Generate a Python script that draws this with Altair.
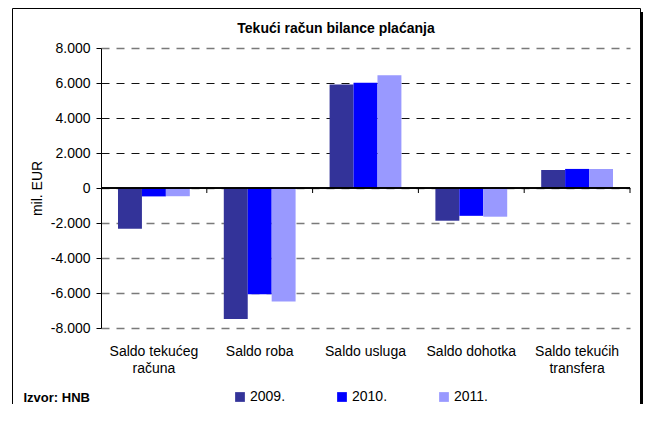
import altair as alt
import pandas as pd

categories = ["Saldo tekućeg računa", "Saldo roba", "Saldo usluga", "Saldo dohotka", "Saldo tekućih transfera"]
years = ["2009.", "2010.", "2011."]
v2009 = [-2330, -7490, 5920, -1870, 1030]
v2010 = [-480, -6070, 6020, -1590, 1090]
v2011 = [-470, -6480, 6440, -1640, 1090]
colors = ["#333399", "#0000FF", "#9999FF"]
y_ticks = [-8000, -6000, -4000, -2000, 0, 2000, 4000, 6000, 8000]
title_text = "Tekući račun bilance plaćanja"
y_title = "mil. EUR"
source_text = "Izvor: HNB"

rows = []
for i, c in enumerate(categories):
    for yr, vals in zip(years, [v2009, v2010, v2011]):
        rows.append({"cat": c, "year": yr, "value": vals[i]})
df = pd.DataFrame(rows)

FONT = "Liberation Sans"
x_scale = alt.Scale(domain=categories, paddingInner=0, paddingOuter=0)
y_scale = alt.Scale(domain=[-8000, 8000], nice=False, zero=False)

label_expr_x = ("length(split(datum.label, ' ')) > 2 ? "
                "[join(slice(split(datum.label, ' '), 0, 2), ' '), join(slice(split(datum.label, ' '), 2), ' ')] "
                ": datum.label")
label_expr_y = "replace(replace(format(datum.value, ','), ',', '.'), '\u2212', '-')"

x_axis = alt.Axis(title=source_text, titleFontWeight="bold", titleFontSize=13,
                  titleX=-78, titleY=69, titleAlign="left", titleBaseline="middle",
                  domain=False, ticks=False, labelAngle=0, labelPadding=16,
                  labelFontSize=14, labelBaseline="top", labelLineHeight=17,
                  labelExpr=label_expr_x, labelColor="black", labelLimit=0)
y_axis = alt.Axis(values=y_ticks, labelExpr=label_expr_y, title=y_title,
                  labelOverlap=False,
                  titleFontWeight="normal", titleFontSize=14, titleColor="black",
                  titleX=-64, titleY=140, titleAngle=270, titleAlign="center",
                  titleBaseline="middle",
                  labelFontSize=14, labelColor="black", labelPadding=6,
                  tickSize=5, tickColor="black", domainColor="black",
                  gridDash=[8, 7],
                  gridColor={"condition": {"test": "datum.value > 0 && datum.value < 8000", "value": "#111111"}, "value": "#7a7a7a"},
                  gridWidth={"condition": {"test": "datum.value > 0 && datum.value < 8000", "value": 1}, "value": 1.5})

frame = alt.Chart(alt.Data(values=[{}])).mark_rect(
    fillOpacity=0, stroke="black", strokeWidth=1
).encode(
    x=alt.value(-88.5), x2=alt.value(539.5), y=alt.value(-39.5), y2=alt.value(420)
)
shadow = alt.Chart(alt.Data(values=[{}])).mark_rect(color="black").encode(
    x=alt.value(540), x2=alt.value(545), y=alt.value(-36), y2=alt.value(420)
)

bars = alt.Chart(df).mark_bar().encode(
    x=alt.X("cat:N", scale=x_scale, sort=categories, axis=x_axis),
    xOffset=alt.XOffset("year:N", sort=years,
                        scale=alt.Scale(domain=years, paddingInner=0, paddingOuter=0.71)),
    y=alt.Y("value:Q", scale=y_scale, axis=y_axis),
    color=alt.Color("year:N", sort=years, scale=alt.Scale(domain=years, range=colors),
                    legend=alt.Legend(title=None, orient="none", legendX=132, legendY=342,
                                      direction="horizontal", symbolType="square",
                                      symbolSize=95, symbolStrokeWidth=0, labelFontSize=14,
                                      labelColor="black", columnPadding=49, labelOffset=3,
                                      padding=0, symbolOpacity=1)),
)

zero_df = pd.DataFrame({"cat": categories, "value": [0] * len(categories)})
zero = alt.Chart(zero_df).mark_rule(color="black", strokeWidth=1).encode(
    y=alt.Y("value:Q", scale=y_scale, axis=y_axis)
)
bticks = alt.Chart(zero_df).mark_rule(
    color="black", strokeWidth=1, y2Offset=5
).encode(
    x=alt.X("cat:N", bandPosition=1, scale=x_scale, sort=categories, axis=x_axis),
    y=alt.Y("value:Q", scale=y_scale, axis=y_axis),
    y2=alt.Y2("value")
)
title = alt.Chart(alt.Data(values=[{}])).mark_text(
    text=title_text, fontSize=14, fontWeight="bold", align="center", baseline="middle",
    color="black", font=FONT
).encode(x=alt.value(235), y=alt.value(-19))

chart = alt.layer(frame, shadow, bars, zero, bticks, title).properties(
    width=529, height=280,
    autosize=alt.AutoSizeParams(type="none"),
    padding={"left": 93, "top": 40, "right": 13, "bottom": 76},
).configure(font=FONT).configure_view(stroke=None)

chart.save("out.html", embed_options={"renderer": "svg", "actions": False})
